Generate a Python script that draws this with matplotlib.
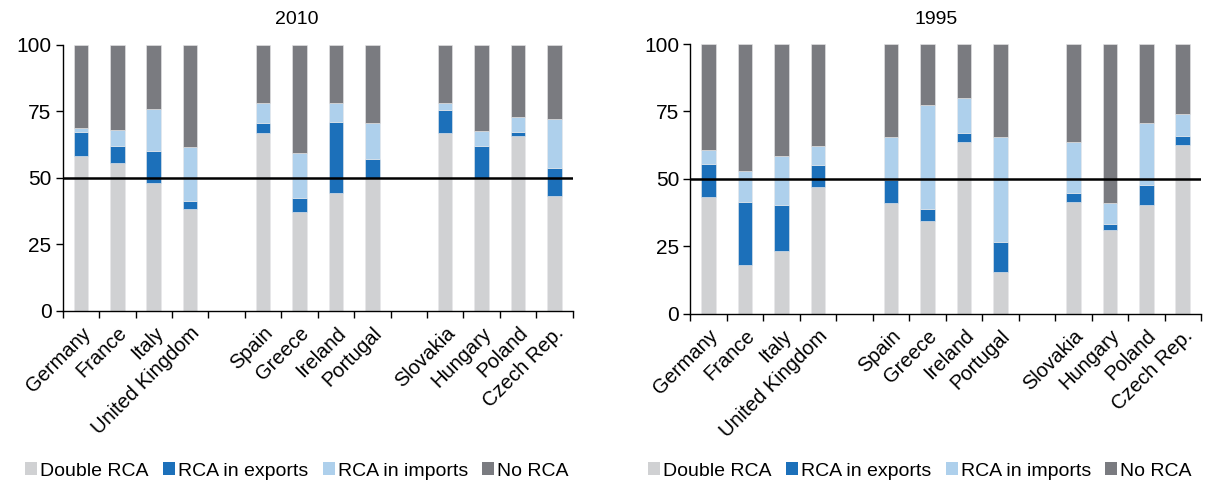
import matplotlib
matplotlib.use("Agg")
import matplotlib.pyplot as plt
import numpy as np
from matplotlib.patches import Patch

plt.rcParams['font.family'] = ['Liberation Sans', 'DejaVu Sans']

countries = ["Germany", "France", "Italy", "United Kingdom",
             "Spain", "Greece", "Ireland", "Portugal",
             "Slovakia", "Hungary", "Poland", "Czech Rep."]
series = ["Double RCA", "RCA in exports", "RCA in imports", "No RCA"]
colors = ["#D0D1D3", "#1C70BA", "#AED0EC", "#7A7B80"]

# 2010
double_2010 = [58.2, 55.4, 48.2, 38.3, 67.0, 37.2, 44.4, 50.0, 67.0, 50.0, 65.7, 43.3]
exports_2010 = [9.1, 6.6, 12.0, 3.1, 3.7, 5.4, 26.7, 6.9, 8.5, 12.0, 1.6, 10.3]
imports_2010 = [1.3, 6.0, 15.5, 20.1, 7.3, 16.6, 6.9, 13.8, 2.5, 5.6, 5.7, 18.4]
none_2010 = [31.4, 32.0, 24.3, 38.5, 22.0, 40.8, 22.0, 29.3, 22.0, 32.4, 27.0, 28.0]

# 1995
double_1995 = [43.1, 18.0, 23.1, 47.0, 40.9, 34.4, 63.8, 15.3, 41.5, 31.1, 40.4, 62.7]
exports_1995 = [12.4, 23.4, 17.3, 8.0, 8.8, 4.3, 3.2, 11.3, 3.1, 2.2, 7.4, 3.2]
imports_1995 = [5.1, 11.5, 18.1, 7.2, 15.7, 38.7, 13.1, 38.8, 19.2, 7.6, 23.0, 8.1]
none_1995 = [39.4, 47.1, 41.5, 37.8, 34.6, 22.6, 19.9, 34.6, 36.2, 59.1, 29.2, 26.0]

yticks = [0, 25, 50, 75, 100]

W, H = 1208, 482
fig = plt.figure(figsize=(W / 100, H / 100), dpi=100)

def px_axes(x0, x1, ytop, ybot):
    return fig.add_axes([x0 / W, 1 - ybot / H, (x1 - x0) / W, (ybot - ytop) / H])

ax1 = px_axes(62.7, 572.7, 44.7, 311.0)
ax2 = px_axes(690.3, 1201.0, 44.0, 313.7)

pos = np.array([i + i // 4 for i in range(len(countries))], dtype=float)
bw = 0.4

def draw(ax, d, e, im, n, title, tx):
    bottom = np.zeros(len(countries))
    for vals, c in zip([d, e, im, n], colors):
        vals = np.array(vals)
        ax.bar(pos, vals, bw, bottom=bottom, color=c, edgecolor='#E8E8EA', linewidth=0.4)
        bottom += vals
    ax.axhline(50, color='black', lw=1.8, zorder=5)
    ax.set_xlim(-0.5, 13.5)
    ax.set_ylim(0, 100)
    ax.set_yticks(yticks)
    ax.set_yticklabels([str(v) for v in yticks], fontsize=15)
    ax.set_xticks(pos)
    ax.set_xticklabels(countries, rotation=45, ha='right', rotation_mode='anchor', fontsize=14.5)
    ax.tick_params(axis='x', which='major', length=0, pad=9)
    ax.set_xticks(np.arange(-0.5, 14.0, 1.0), minor=True)
    ax.tick_params(axis='x', which='minor', length=5, direction='out', width=1)
    ax.tick_params(axis='y', length=5, direction='out', width=1, pad=3)
    for s in ['top', 'right']:
        ax.spines[s].set_visible(False)
    for s in ['left', 'bottom']:
        ax.spines[s].set_linewidth(1)
    fig.text(tx / W, 1 - 20 / H, title, ha='center', va='center', fontsize=14)

draw(ax1, double_2010, exports_2010, imports_2010, none_2010, "2010", 297)
draw(ax2, double_1995, exports_1995, imports_1995, none_1995, "1995", 936)

handles = [Patch(facecolor=c, edgecolor='none') for c in colors]
for cx in [297, 920]:
    fig.legend(handles, series, loc='center', bbox_to_anchor=(cx / W, 1 - 471 / H),
               ncol=4, frameon=False, fontsize=14, handlelength=0.62, handleheight=0.62,
               handletextpad=0.15, columnspacing=0.74, borderpad=0, borderaxespad=0)

fig.savefig("out.png", dpi=100)
